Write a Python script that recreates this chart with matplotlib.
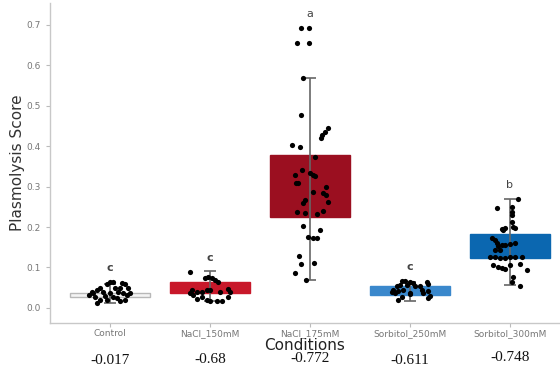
import numpy as np
import matplotlib
matplotlib.use("Agg")
import matplotlib.pyplot as plt

# conditions and summary values
conditions = ["Control", "NaCl_150mM", "NaCl_175mM", "Sorbitol_250mM", "Sorbitol_300mM"]
q1 = [0.028, 0.036, 0.224, 0.032, 0.123]
q3 = [0.036, 0.064, 0.378, 0.053, 0.182]
wlo = [0.012, 0.016, 0.068, 0.017, 0.057]
whi = [0.058, 0.091, 0.569, 0.065, 0.269]
letters = ["c", "c", "a", "c", "b"]
letter_y = [0.099, 0.124, 0.727, 0.101, 0.304]
corr = ["-0.017", "-0.68", "-0.772", "-0.611", "-0.748"]
box_colors = ["#f4f4f4", "#c8182a", "#9b0f20", "#3a88cc", "#0b67b0"]
edge_colors = ["#b8b8b8", "#c8182a", "#9b0f20", "#3a88cc", "#0b67b0"]

# individual points: (x offset in px from centre, value)
control_pts = [(0, 0.063), (3, 0.063), (12, 0.061), (15, 0.058), (-3, 0.058),
               (-10, 0.049), (-13, 0.044), (5, 0.049), (10, 0.049), (18, 0.049),
               (-18, 0.040), (-17, 0.036), (-7, 0.040), (8, 0.040), (13, 0.036),
               (-21, 0.032), (-15, 0.028), (0, 0.036), (17, 0.032), (20, 0.036),
               (-10, 0.020), (-3, 0.020), (-13, 0.012), (10, 0.016), (15, 0.020),
               (7, 0.024), (-5, 0.030), (3, 0.026)]
nacl150_pts = [(-20, 0.090), (-5, 0.073), (-2, 0.077), (2, 0.073), (8, 0.065),
               (5, 0.069), (-18, 0.044), (-20, 0.036), (-13, 0.040), (-8, 0.040),
               (-3, 0.044), (0, 0.045), (18, 0.048), (20, 0.040), (-17, 0.032),
               (-13, 0.022), (-8, 0.028), (-3, 0.020), (0, 0.016), (7, 0.016),
               (12, 0.016), (18, 0.028), (10, 0.040)]
nacl175_pts = [(-9, 0.691), (-1, 0.691), (-13, 0.654), (-1, 0.654), (-7, 0.569),
               (-9, 0.477), (18, 0.446), (15, 0.436), (12, 0.428), (11, 0.419),
               (-18, 0.403), (-10, 0.399), (5, 0.373), (-8, 0.341), (-15, 0.329),
               (0, 0.333), (3, 0.329), (5, 0.325), (-14, 0.310), (-12, 0.310),
               (16, 0.300), (3, 0.286), (13, 0.284), (16, 0.279), (-5, 0.267),
               (-7, 0.259), (18, 0.263), (13, 0.240), (-13, 0.238), (-5, 0.234),
               (7, 0.232), (-7, 0.203), (10, 0.193), (-2, 0.175), (3, 0.172),
               (7, 0.172), (-11, 0.129), (-9, 0.109), (4, 0.112), (-15, 0.087),
               (-4, 0.068)]
sorb250_pts = [(-8, 0.066), (-5, 0.067), (0, 0.064), (3, 0.062), (17, 0.064),
               (18, 0.058), (-13, 0.053), (-10, 0.057), (-3, 0.057), (5, 0.055),
               (10, 0.053), (-17, 0.045), (-18, 0.040), (-15, 0.038), (-12, 0.042),
               (-7, 0.045), (0, 0.038), (12, 0.045), (13, 0.038), (18, 0.042),
               (20, 0.030), (18, 0.024), (-12, 0.020), (-8, 0.028), (0, 0.034)]
sorb300_pts = [(8, 0.269), (-13, 0.246), (2, 0.250), (2, 0.238), (2, 0.230),
               (2, 0.213), (3, 0.201), (5, 0.197), (-8, 0.195), (-7, 0.193),
               (-5, 0.197), (-18, 0.172), (-15, 0.168), (-13, 0.160), (-12, 0.152),
               (-10, 0.143), (-15, 0.143), (-8, 0.155), (-5, 0.155), (0, 0.157),
               (5, 0.160), (-20, 0.125), (-15, 0.125), (-10, 0.123), (-5, 0.123),
               (0, 0.125), (5, 0.125), (12, 0.125), (-17, 0.106), (-12, 0.102),
               (-8, 0.098), (-5, 0.096), (0, 0.106), (10, 0.108), (17, 0.093),
               (3, 0.076), (2, 0.065), (10, 0.055)]
points = [control_pts, nacl150_pts, nacl175_pts, sorb250_pts, sorb300_pts]

fig = plt.figure(figsize=(5.6, 3.72), dpi=100)
ax = fig.add_axes([0.089, 0.132, 0.911, 0.86])

pos = np.arange(len(conditions))
ax.bar(pos, np.array(q3) - np.array(q1), bottom=q1, width=0.8,
       color=box_colors, edgecolor=edge_colors, linewidth=1, zorder=2)
ax.vlines(pos, wlo, whi, color="#666666", linewidth=1.2, zorder=3)
ax.hlines(wlo, pos - 0.06, pos + 0.06, color="#666666", linewidth=1.2, zorder=3)
ax.hlines(whi, pos - 0.06, pos + 0.06, color="#666666", linewidth=1.2, zorder=3)

for i, pts in enumerate(points):
    xs = [i + dx / 100 for dx, v in pts]
    ys = [v for dx, v in pts]
    ax.scatter(xs, ys, s=14, color="black", zorder=4, linewidths=0)

# the numbers under the axis sit at slightly different heights
corr_y = [-0.131, -0.127, -0.126, -0.129, -0.122]
for i in range(len(conditions)):
    ax.text(i, letter_y[i], letters[i], ha="center", va="center",
            fontsize=8, color="#444444", fontweight="bold" if letters[i] == "c" else "normal")
    ax.text(i, corr_y[i], corr[i], ha="center", va="center", fontsize=11,
            family="Liberation Serif", color="#111111", clip_on=False)

ax.set_xlim(-0.6, 4.5)
ax.set_ylim(-0.037, 0.754)
ax.set_xticks(pos)
ax.set_xticklabels(conditions, fontsize=6.5, color="#777777")
ax.set_yticks(np.arange(0, 0.71, 0.1))
ax.set_yticklabels(["%.1f" % v for v in np.arange(0, 0.71, 0.1)], fontsize=6.5, color="#777777")
ax.tick_params(axis="both", length=3, color="#bbbbbb", width=0.8)
ax.tick_params(axis="x", pad=1.5)
for s in ["top", "right"]:
    ax.spines[s].set_visible(False)
for s in ["left", "bottom"]:
    ax.spines[s].set_color("#c8c8c8")
    ax.spines[s].set_linewidth(1)

ax.set_ylabel("Plasmolysis Score", fontsize=11, color="#333333", labelpad=1)
ax.set_xlabel("Conditions", fontsize=11, color="#222222", labelpad=0)

fig.savefig("out.png", dpi=100)
